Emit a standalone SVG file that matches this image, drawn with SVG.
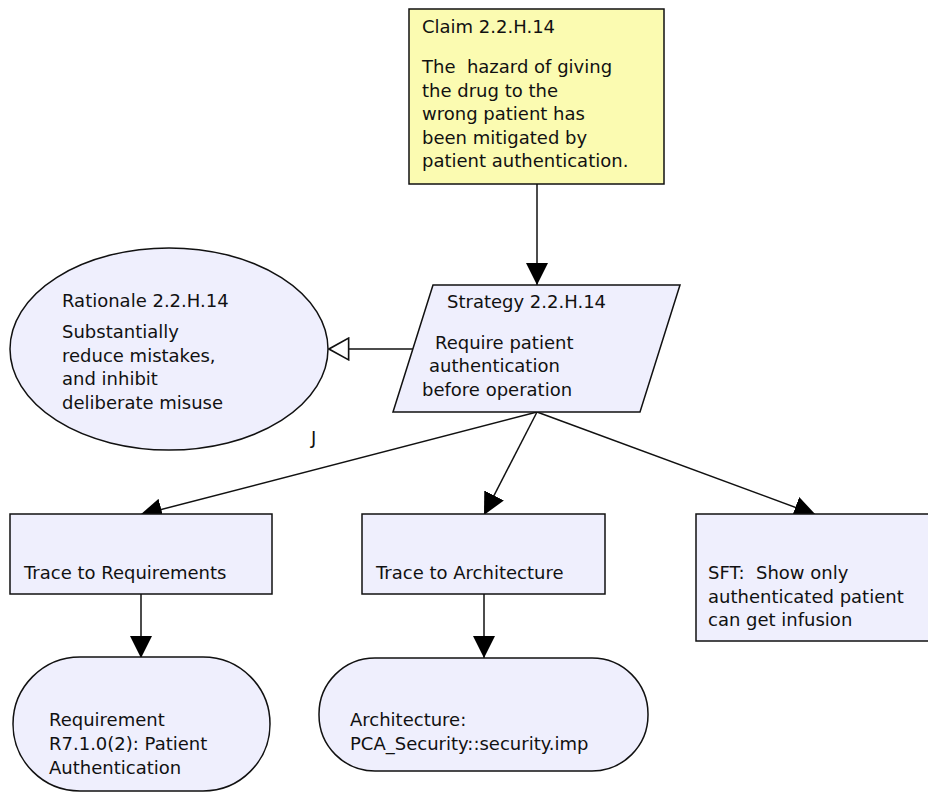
<svg xmlns="http://www.w3.org/2000/svg" width="928" height="792" viewBox="0 0 928 792">
  <style>
    .node { fill: #efeffd; stroke: #111; stroke-width: 1.5; }
    .claim { fill: #fbfbb1; stroke: #111; stroke-width: 1.5; }
    text { font-family: "DejaVu Sans", Verdana, sans-serif; font-size: 18px; fill: #111; white-space: pre; }
    .edge { stroke: #111; stroke-width: 1.5; fill: none; }
  </style>
  <defs>
    <marker id="solid" markerUnits="userSpaceOnUse" markerWidth="22" markerHeight="22" viewBox="0 0 20 20" refX="20" refY="10" orient="auto">
      <path d="M0,0 L20,10 L0,20 Z" fill="#000"/>
    </marker>
    <marker id="hollow" markerUnits="userSpaceOnUse" markerWidth="22" markerHeight="24" viewBox="0 0 20 22" refX="19" refY="11" orient="auto">
      <path d="M1,1 L19,11 L1,21 Z" fill="#fff" stroke="#111" stroke-width="1.5"/>
    </marker>
  </defs>

  <g id="connectors">
    <line class="edge" x1="537" y1="184" x2="537" y2="285" marker-end="url(#solid)"/>
    <line class="edge" x1="413" y1="349" x2="329" y2="349" marker-end="url(#hollow)"/>
    <line class="edge" x1="537" y1="412" x2="140" y2="515" marker-end="url(#solid)"/>
    <line class="edge" x1="537" y1="412" x2="484" y2="515" marker-end="url(#solid)"/>
    <line class="edge" x1="537" y1="412" x2="816" y2="515" marker-end="url(#solid)"/>
    <line class="edge" x1="141" y1="594" x2="141" y2="658" marker-end="url(#solid)"/>
    <line class="edge" x1="484" y1="594" x2="484" y2="658" marker-end="url(#solid)"/>
    <text x="311" y="444">J</text>
  </g>

  <g id="claim">
    <rect class="claim" x="409" y="9" width="255" height="175"/>
    <text x="422" y="33">Claim 2.2.H.14</text>
    <text x="422" y="73" xml:space="preserve">The  hazard of giving</text>
    <text x="422" y="97">the drug to the</text>
    <text x="422" y="120">wrong patient has</text>
    <text x="422" y="144">been mitigated by</text>
    <text x="422" y="167">patient authentication.</text>
  </g>

  <g id="strategy">
    <polygon class="node" points="433,285 680,285 640,412 393,412"/>
    <text x="447" y="308">Strategy 2.2.H.14</text>
    <text x="435" y="349">Require patient</text>
    <text x="429" y="372">authentication</text>
    <text x="422" y="396">before operation</text>
  </g>

  <g id="rationale">
    <ellipse class="node" cx="169" cy="349" rx="159" ry="101"/>
    <text x="62" y="307">Rationale 2.2.H.14</text>
    <text x="62" y="338">Substantially</text>
    <text x="62" y="362">reduce mistakes,</text>
    <text x="62" y="385">and inhibit</text>
    <text x="62" y="409">deliberate misuse</text>
  </g>

  <g id="trace-req">
    <rect class="node" x="10" y="514" width="262" height="80"/>
    <text x="24" y="579">Trace to Requirements</text>
  </g>

  <g id="trace-arch">
    <rect class="node" x="362" y="514" width="243" height="80"/>
    <text x="376" y="579">Trace to Architecture</text>
  </g>

  <g id="sft">
    <rect class="node" x="696" y="514" width="240" height="127"/>
    <text x="708" y="579" xml:space="preserve">SFT:  Show only</text>
    <text x="708" y="603">authenticated patient</text>
    <text x="708" y="626">can get infusion</text>
  </g>

  <g id="requirement">
    <rect class="node" x="13" y="657" width="257" height="134" rx="67" ry="67"/>
    <text x="49" y="726">Requirement</text>
    <text x="49" y="750">R7.1.0(2): Patient</text>
    <text x="49" y="774">Authentication</text>
  </g>

  <g id="architecture">
    <rect class="node" x="319" y="658" width="329" height="113" rx="56" ry="56"/>
    <text x="350" y="726">Architecture:</text>
    <text x="350" y="750">PCA_Security::security.imp</text>
  </g>
</svg>
